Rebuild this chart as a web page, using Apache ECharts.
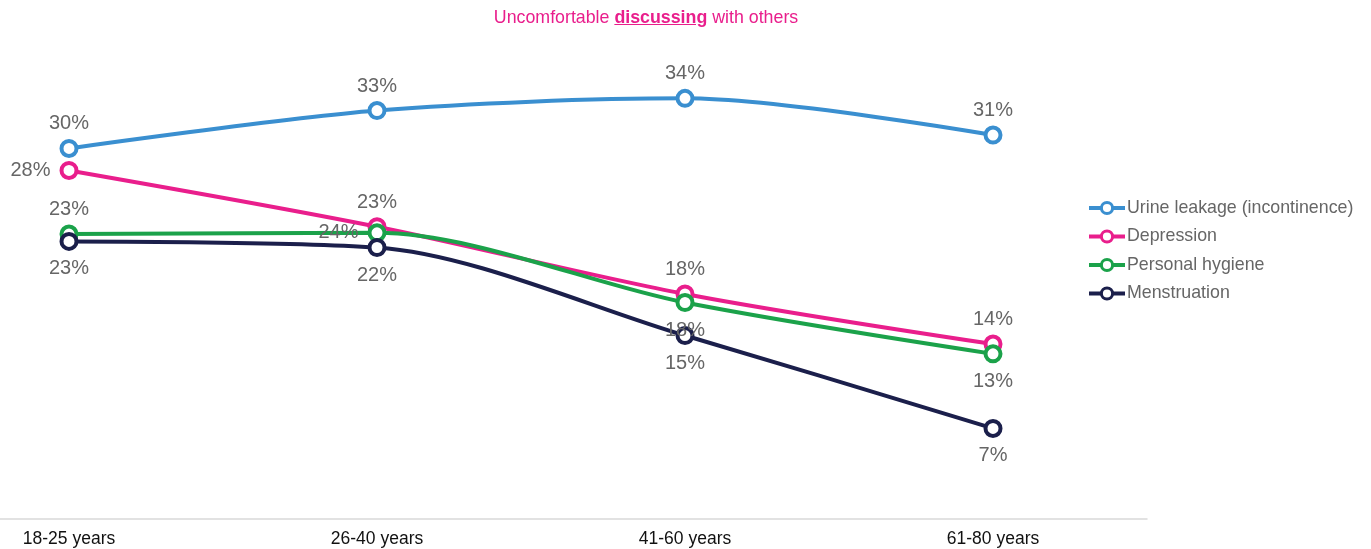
<!DOCTYPE html>
<html>
<head>
<meta charset="utf-8">
<script src="https://cdn.jsdelivr.net/npm/echarts@6/dist/echarts.min.js"></script>
<style>
    html, body { margin: 0; padding: 0; background: #fff; }
    #wrap { position: relative; width: 1371px; height: 549px; }
    #echarts { width: 1371px; height: 549px; }
    /* 标题用html写，echarts的富文本没有下划线 */
    #title {
        position: absolute; top: 7px; left: 646px; transform: translateX(-50%);
        font-family: "Liberation Sans", Arial, sans-serif; font-size: 17.8px;
        color: #E91E8C; white-space: nowrap;
    }
    #title u { font-weight: bold; }
</style>
</head>
<body>
<div id="wrap">
    <div id="echarts"></div>
    <div id="title">Uncomfortable <u>discussing</u> with others</div>
</div>
<script>
// -----------------数据
const ageGroups = ['18-25 years', '26-40 years', '41-60 years', '61-80 years']
const urineLeakage = [29.9, 33.0, 34.0, 31.0]
const depression = [28.1, 23.5, 18.0, 13.9]
const personalHygiene = [22.9, 23.0, 17.3, 13.1]
const menstruation = [22.3, 21.8, 14.6, 7.0]
// 图上显示的标签文字
const urineLabels = ['30%', '33%', '34%', '31%']
const depressionLabels = ['28%', '23%', '18%', '14%']
const hygieneLabels = ['23%', '24%', '18%', '13%']
const menstruationLabels = ['23%', '22%', '15%', '7%']

const seriesList = [
    { name: 'Urine leakage (incontinence)', data: urineLeakage, labels: urineLabels, color: '#3A8FD0', pos: ['top', 'top', 'top', 'top'] },
    { name: 'Depression', data: depression, labels: depressionLabels, color: '#E91E8C', pos: ['left', 'top', 'top', 'top'] },
    { name: 'Personal hygiene', data: personalHygiene, labels: hygieneLabels, color: '#1BA24A', pos: ['top', 'left', 'bottom', 'bottom'] },
    { name: 'Menstruation', data: menstruation, labels: menstruationLabels, color: '#1B1F4B', pos: ['bottom', 'bottom', 'bottom', 'bottom'] },
]
const labelDistance = { top: 5, bottom: 8, left: 9 }

const font = '"Liberation Sans", Arial, sans-serif'
let mycharts = echarts.init(document.getElementById('echarts'), null, { renderer: 'canvas' })

let option = {
    animation: false,
    textStyle: { fontFamily: font },
    grid: [
        { left: 69, right: 378, top: 25, bottom: 35 },
        // 只用来画底部那条灰线
        { left: 0, right: 224, top: 25, bottom: 30 },
    ],
    legend: {
        orient: 'vertical',
        left: 1082,
        top: 194,
        itemWidth: 36,
        itemHeight: 14,
        itemGap: 10.5,
        lineStyle: { width: 4 },
        itemStyle: { borderWidth: 3 },
        textStyle: { color: '#666', fontSize: 17.8, padding: [0, 0, 0, -3] },
        data: seriesList.map(s => s.name),
    },
    xAxis: [
        {
            type: 'category',
            data: ageGroups,
            boundaryGap: false,
            axisLine: { show: false },
            axisTick: { show: false },
            axisLabel: { color: '#111', fontSize: 17.5, margin: 16 },
        },
        {
            type: 'value',
            gridIndex: 1,
            min: 0, max: 1,
            axisLine: { show: true, onZero: false, lineStyle: { color: '#d9d9d9', width: 1.5 } },
            axisTick: { show: false },
            axisLabel: { show: false },
            splitLine: { show: false },
        },
    ],
    yAxis: [
        { type: 'value', min: 0, max: 40, show: false },
        { type: 'value', gridIndex: 1, min: 0, max: 1, show: false },
    ],
    series: seriesList.map(s => ({
        type: 'line',
        name: s.name,
        smooth: 0.3,
        symbol: 'circle',
        symbolSize: 15,
        lineStyle: { color: s.color, width: 4 },
        itemStyle: { color: '#fff', borderColor: s.color, borderWidth: 4 },
        data: s.data.map((v, i) => ({
            value: v,
            label: { position: s.pos[i], distance: labelDistance[s.pos[i]], formatter: s.labels[i] },
        })),
        label: {
            show: true,
            color: '#666',
            fontSize: 20,
        },
    })),
}
mycharts.setOption(option)
</script>
</body>
</html>
